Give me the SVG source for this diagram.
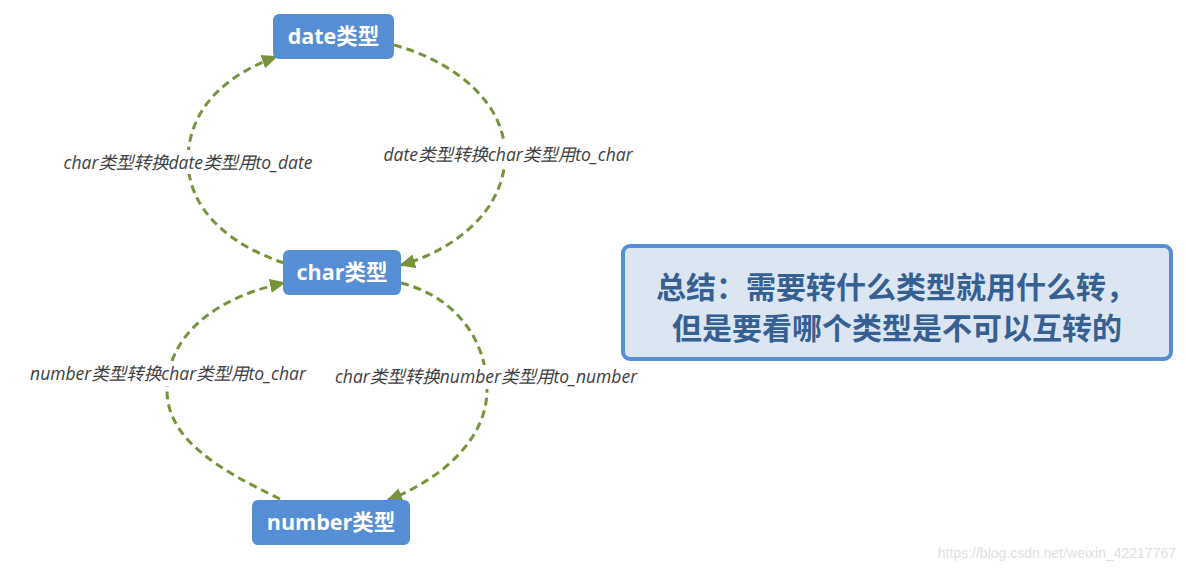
<svg xmlns="http://www.w3.org/2000/svg" width="1186" height="571" viewBox="0 0 1186 571">
<style>
.node rect{fill:#558ED5;}
.node text{fill:#fff;font-family:"Open Sans","Noto Sans CJK SC",sans-serif;font-weight:bold;font-size:21.5px;text-anchor:middle;}
.edge{fill:none;stroke:#77933C;stroke-width:3;stroke-dasharray:8,5;}
.lbl rect{fill:#fff;}
.lbl text{fill:#404040;font-family:"Open Sans","Noto Sans CJK SC",sans-serif;font-style:italic;font-size:17.5px;text-anchor:middle;}
.sum text{fill:#376092;font-family:"Noto Sans CJK SC",sans-serif;font-weight:bold;font-size:30px;text-anchor:middle;}
</style>
<defs>
<marker id="arr" markerUnits="userSpaceOnUse" markerWidth="16" markerHeight="16" viewBox="0 0 16 16" refX="14" refY="8" orient="auto">
<path d="M0,1 L16,8 L0,15 Z" fill="#77933C"/>
</marker>
</defs>
<rect width="1186" height="571" fill="#fff"/>
<g id="connectors">
<path class="edge" d="M284,263 C230,245 188,210 188,160 C188,110 225,75 276,57" marker-end="url(#arr)"/>
<path class="edge" d="M394,45 C450,60 505,100 505,155 C505,210 455,250 401,265" marker-end="url(#arr)"/>
<path class="edge" d="M280,499 C220,470 167,440 167,390 C167,330 225,295 284,283" marker-end="url(#arr)"/>
<path class="edge" d="M401,283 C450,295 487,335 487,390 C487,440 440,480 388,500" marker-end="url(#arr)"/>
</g>
<g id="labels">
<g class="lbl"><rect x="62" y="150" width="252" height="24"/><text x="188" y="169">char类型转换date类型用to_date</text></g>
<g class="lbl"><rect x="383" y="143" width="252" height="24"/><text x="508" y="161">date类型转换char类型用to_char</text></g>
<g class="lbl"><rect x="29" y="362" width="279" height="24"/><text x="168" y="380">number类型转换char类型用to_char</text></g>
<g class="lbl"><rect x="332" y="365" width="308" height="24"/><text x="486" y="383">char类型转换number类型用to_number</text></g>
</g>
<g id="node-date" class="node"><rect x="273" y="14" width="121" height="45" rx="6"/><text x="333.5" y="44">date类型</text></g>
<g id="node-char" class="node"><rect x="283" y="250" width="118" height="45" rx="6"/><text x="342" y="280">char类型</text></g>
<g id="node-number" class="node"><rect x="252" y="500" width="158" height="45" rx="6"/><text x="331" y="530">number类型</text></g>
<g id="node-summary" class="sum">
<rect x="623" y="246" width="548" height="113" rx="7" fill="#DCE6F2" stroke="#558ED5" stroke-width="4"/>
<text x="896" y="298">总结：需要转什么类型就用什么转，</text>
<text x="897" y="339">但是要看哪个类型是不可以互转的</text>
</g>
<text x="1176" y="558" font-family="Liberation Sans, Arial, sans-serif" font-size="14" fill="#E0E0E0" text-anchor="end">https://blog.csdn.net/weixin_42217767</text>
</svg>
